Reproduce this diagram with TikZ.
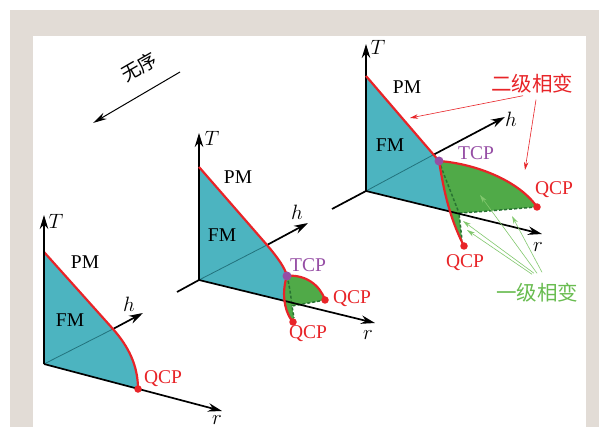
\documentclass[tikz,border=0pt]{standalone}
\usepackage{fontspec}
\setmainfont{Liberation Serif}
\newfontfamily\cjk{Noto Sans CJK SC}
\usepackage{tikz}
\usetikzlibrary{arrows.meta}

\definecolor{framebg}{RGB}{226,220,214}
\definecolor{fmteal}{RGB}{76,180,192}
\definecolor{tealdk}{RGB}{35,115,125}
\definecolor{wingfill}{RGB}{80,170,72}
\definecolor{wingdash}{RGB}{40,115,50}
\definecolor{critred}{RGB}{232,36,40}
\definecolor{tcppurple}{RGB}{150,78,165}
\definecolor{firstgreen}{RGB}{105,188,80}
\definecolor{arrgreen}{RGB}{130,200,110}

\begin{document}
\begin{tikzpicture}[x=1pt, y=-1pt,
  lbl/.style={font=\fontsize{19.5}{21}\selectfont, inner sep=0pt},
  zh/.style={font=\cjk\fontsize{20.5}{22}\selectfont, inner sep=0pt},
  ax/.style={line width=1.7pt, -{Stealth[length=14pt,width=8.5pt]}},
  hid/.style={line width=0.8pt, draw=tealdk},
  crit/.style={line width=2.2pt, draw=critred},
  wing/.style={line width=1.5pt, draw=wingdash, dash pattern=on 3pt off 2pt},
  qdot/.style={circle, fill=critred, inner sep=0pt, minimum size=7.5pt},
  tdot/.style={circle, fill=tcppurple, inner sep=0pt, minimum size=9pt},
  note/.style={line width=0.6pt, -{Stealth[length=8pt,width=4.5pt]}}
]
\useasboundingbox (0,0) rectangle (599,427);
\fill[framebg] (10,10) rectangle (599,427);
\fill[white] (33,36) rectangle (586,427);

% left diagram
\coordinate (o1) at (44,364);
\coordinate (t1) at (44,215);
\coordinate (a1) at (44,252);
\coordinate (b1) at (113,329);
\coordinate (q1) at (138,389);
\coordinate (h1) at (143,313);
\coordinate (r1) at (222,411);
\fill[fmteal] (o1) -- (a1) -- (b1) .. controls (128,346) and (138,365) .. (q1) -- cycle;
\draw[hid] (o1) -- (b1);
\draw[ax] (b1) -- (h1);
\draw[crit] (a1) -- (b1) .. controls (128,346) and (138,365) .. (q1);
\draw[ax] (o1) -- (t1);
\draw[ax] (o1) -- (r1);
\node[qdot] (qd1) at (q1) {};
\node[lbl] (tl1) at (56,221) {$T$};
\node[lbl] (hl1) at (129,304) {$h$};
\node[lbl] (rl1) at (217,420) {$r$};
\node[lbl] (pm1) at (85,262) {PM};
\node[lbl] (fm1) at (70,320) {FM};
\node[lbl, text=critred] (ql1) at (163,379) {QCP};

% middle diagram
\coordinate (o2) at (199,280);
\coordinate (t2) at (199,133);
\coordinate (a2) at (199,167);
\coordinate (b2) at (267,245);
\coordinate (tcp2) at (287,276);
\coordinate (h2) at (308,223);
\coordinate (hn2) at (177,292);
\coordinate (r2) at (375,323);
\coordinate (qr2) at (325,300);
\coordinate (qb2) at (293,322);
\coordinate (p2) at (292,306);
\coordinate (pb2) at (294,318);
\begin{scope}
  \clip (o2) -- (r2) -- (375,100) -- (199,100) -- cycle;
  \fill[fmteal] (o2) -- (a2) -- (b2) .. controls (278,258) and (285,268) .. (tcp2)
    .. controls (282,290) and (283,310) .. (qb2) -- cycle;
\end{scope}
\draw[hid] (o2) -- (b2);
\fill[wingfill] (tcp2) .. controls (305,274) and (320,285) .. (qr2) -- (p2) -- (pb2) -- (qb2)
  .. controls (283,310) and (282,290) .. (tcp2);
\draw[wing] (qr2) -- (p2) -- (pb2);
\draw[wing] (tcp2) .. controls (290,288) and (291,298) .. (p2);
\draw[ax] (b2) -- (h2);
\draw[line width=1.7pt] (hn2) -- (o2);
\draw[ax] (o2) -- (t2);
\draw[ax] (o2) -- (r2);
\draw[crit] (a2) -- (b2) .. controls (278,258) and (285,268) .. (tcp2);
\draw[crit] (tcp2) .. controls (305,274) and (320,285) .. (qr2);
\draw[crit] (tcp2) .. controls (282,290) and (283,310) .. (qb2);
\node[qdot] (qrd2) at (qr2) {};
\node[qdot] (qbd2) at (qb2) {};
\node[tdot] (td2) at (tcp2) {};
\node[lbl] (tl2) at (212,138) {$T$};
\node[lbl] (hl2) at (297,212) {$h$};
\node[lbl] (rl2) at (368,335) {$r$};
\node[lbl] (pm2) at (238,177) {PM};
\node[lbl] (fm2) at (222,235) {FM};
\node[lbl, text=tcppurple] (tcl2) at (308,265) {TCP};
\node[lbl, text=critred] (qrl2) at (352,299) {QCP};
\node[lbl, text=critred] (qbl2) at (308,334) {QCP};

% right diagram
\coordinate (o3) at (366,191);
\coordinate (t3) at (366,44);
\coordinate (a3) at (366,76);
\coordinate (b3) at (433,155);
\coordinate (tcp3) at (439,161);
\coordinate (h3) at (505,117);
\coordinate (hn3) at (332,209);
\coordinate (r3) at (542,234);
\coordinate (qr3) at (537,207);
\coordinate (qb3) at (464,246);
\coordinate (p3) at (459,213);
\coordinate (pb3) at (462,240);
\begin{scope}
  \clip (o3) -- (r3) -- (542,0) -- (366,0) -- cycle;
  \fill[fmteal] (o3) -- (a3) -- (tcp3) .. controls (443,185) and (448,215) .. (qb3) -- cycle;
\end{scope}
\draw[hid] (o3) -- (b3);
\fill[wingfill] (tcp3) .. controls (478,164) and (520,182) .. (qr3)
  .. controls (510,209) and (480,212) .. (p3) -- (pb3) -- (qb3)
  .. controls (448,215) and (443,185) .. (tcp3);
\draw[wing] (qr3) .. controls (510,209) and (480,212) .. (p3) -- (pb3);
\draw[wing] (tcp3) .. controls (444,175) and (452,195) .. (p3);
\draw[ax] (b3) -- (h3);
\draw[line width=1.7pt] (hn3) -- (o3);
\draw[ax] (o3) -- (t3);
\draw[ax] (o3) -- (r3);
\draw[crit] (a3) -- (tcp3);
\draw[crit] (tcp3) .. controls (478,164) and (520,182) .. (qr3);
\draw[crit] (tcp3) .. controls (443,185) and (448,215) .. (qb3);
\node[qdot] (qrd3) at (qr3) {};
\node[qdot] (qbd3) at (qb3) {};
\node[tdot] (td3) at (tcp3) {};
\node[lbl] (tl3) at (378,47) {$T$};
\node[lbl] (hl3) at (511,119) {$h$};
\node[lbl] (rl3) at (538,247) {$r$};
\node[lbl] (pm3) at (407,87) {PM};
\node[lbl] (fm3) at (390,145) {FM};
\node[lbl, text=tcppurple] (tcl3) at (476,153) {TCP};
\node[lbl, text=critred] (qrl3) at (554,190) {QCP};
\node[lbl, text=critred] (qbl3) at (465,263) {QCP};

% annotations
\node[zh, text=critred] (ej) at (532,84) {二级相变};
\coordinate (ej1) at (410,118);
\coordinate (ej2) at (525,170);
\draw[note, critred] ([xshift=-9pt, yshift=-2pt]ej.south) -- (ej1);
\draw[note, critred] ([xshift=4pt, yshift=-6pt]ej.south) -- (ej2);

\node[zh, text=firstgreen] (yj) at (537,293) {一级相变};
\coordinate (yj1) at (480,195);
\coordinate (yj2) at (512,216);
\coordinate (yj3) at (467,230);
\coordinate (yj4) at (463,221);
\draw[note, arrgreen] ([xshift=0pt, yshift=10pt]yj.north) -- (yj1);
\draw[note, arrgreen] ([xshift=5pt, yshift=11pt]yj.north) -- (yj2);
\draw[note, arrgreen] ([xshift=-5pt, yshift=9pt]yj.north) -- (yj3);
\draw[note, arrgreen] ([xshift=-3pt, yshift=10pt]yj.north) -- (yj4);

\node[zh, rotate=30, font=\cjk\fontsize{19}{21}\selectfont] (wx) at (139,67) {无序};
\coordinate (wa) at (180,72);
\coordinate (wb) at (93,123);
\draw[line width=1pt, -{Stealth[length=14pt,width=7pt]}] (wa) -- (wb);
\end{tikzpicture}
\end{document}
